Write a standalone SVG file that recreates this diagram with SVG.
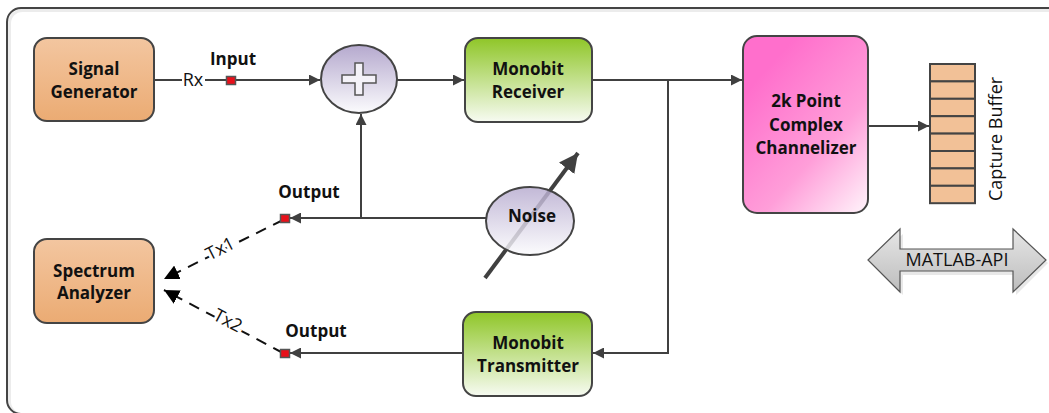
<svg xmlns="http://www.w3.org/2000/svg" width="1049" height="413" viewBox="0 0 1049 413">
<style>
.b{font-family:"Open Sans","Liberation Sans",sans-serif;font-weight:bold;font-size:17px;fill:#111;text-anchor:middle}
.r{font-family:"Open Sans","Liberation Sans",sans-serif;font-size:18px;fill:#111;text-anchor:middle}
.box{stroke:#444;stroke-width:2}
.c{fill:none;stroke:#404040;stroke-width:2}
.d{fill:none;stroke:#111;stroke-width:2;stroke-dasharray:11 8}
.port{fill:#e8101a;stroke:#555;stroke-width:1.5}
</style>
<defs>
<linearGradient id="gOr" x1="0" y1="0" x2="0" y2="1"><stop offset="0" stop-color="#f3c6a0"/><stop offset="1" stop-color="#ebab73"/></linearGradient>
<linearGradient id="gGr" x1="0" y1="0" x2="0" y2="1"><stop offset="0" stop-color="#8fc628"/><stop offset="1" stop-color="#f7fbf2"/></linearGradient>
<linearGradient id="gPu" x1="0" y1="0" x2="0" y2="1"><stop offset="0" stop-color="#b5a9ce"/><stop offset="1" stop-color="#fbfbfd"/></linearGradient>
<linearGradient id="gPk" x1="0.3" y1="0.1" x2="1" y2="1"><stop offset="0" stop-color="#ff6fcc"/><stop offset="0.55" stop-color="#ff9ed9"/><stop offset="1" stop-color="#fff5fb"/></linearGradient>
<linearGradient id="gGy" x1="0" y1="0" x2="0" y2="1"><stop offset="0" stop-color="#e6e6e6"/><stop offset="1" stop-color="#bdbdbd"/></linearGradient>
<marker id="a" viewBox="0 0 10 10" refX="10" refY="5" markerWidth="5.5" markerHeight="5.5" orient="auto"><path d="M0,0L10,5L0,10z" fill="#404040"/></marker>
<marker id="ab" viewBox="0 0 10 10" refX="10" refY="5" markerWidth="15" markerHeight="15" orient="auto" markerUnits="userSpaceOnUse"><path d="M0,0L10,5L0,10z" fill="#000"/></marker>
<marker id="ag" viewBox="0 0 10 10" refX="10" refY="5" markerWidth="19" markerHeight="19" orient="auto" markerUnits="userSpaceOnUse"><path d="M0,0L10,5L0,10z" fill="#404040"/></marker>
</defs>
<rect x="0" y="0" width="1049" height="413" fill="#fff"/>
<g id="frame">
<rect x="9.5" y="10.5" width="1080" height="404" rx="13" fill="none" stroke="#ececec" stroke-width="3"/>
<rect x="7" y="8" width="1080" height="406" rx="14" fill="none" stroke="#444" stroke-width="2"/>
</g>
<g id="connectors">
<path class="c" d="M154,80H182M205,80H226"/>
<path class="c" d="M236,80H320" marker-end="url(#a)"/>
<path class="c" d="M397,80H464" marker-end="url(#a)"/>
<path class="c" d="M592,80H742" marker-end="url(#a)"/>
<path class="c" d="M668,80V353H593" marker-end="url(#a)"/>
<path class="c" d="M868,126H929" marker-end="url(#a)"/>
<path class="c" d="M487,218H290" marker-end="url(#a)"/>
<path class="c" d="M361,218V114" marker-end="url(#a)"/>
<path class="c" d="M462,353H290" marker-end="url(#a)"/>
<path d="M485,278L578,153" fill="none" stroke="#404040" stroke-width="4" marker-end="url(#ag)"/>
<path class="d" d="M283,220L164,279" marker-end="url(#ab)"/>
<path class="d" d="M283,353L164,290" marker-end="url(#ab)"/>
<text class="r" transform="translate(223,254) rotate(-27)" stroke="#fff" stroke-width="6" paint-order="stroke">Tx1</text>
<text class="r" transform="translate(225,326) rotate(28)" stroke="#fff" stroke-width="6" paint-order="stroke">Tx2</text>
<text class="r" x="193" y="86">Rx</text>
</g>
<g id="input-port"><rect class="port" x="226.5" y="76.5" width="9" height="8"/><text class="b" x="233" y="65">Input</text></g>
<g id="output1-port"><rect class="port" x="280.5" y="214.5" width="9" height="8"/><text class="b" x="309" y="198">Output</text></g>
<g id="output2-port"><rect class="port" x="280.5" y="349.5" width="9" height="8"/><text class="b" x="316" y="337">Output</text></g>
<g id="signal-generator"><rect class="box" x="34" y="38" width="120" height="83" rx="13" fill="url(#gOr)"/><text class="b" x="94" y="75">Signal</text><text class="b" x="94" y="98">Generator</text></g>
<g id="spectrum-analyzer"><rect class="box" x="34" y="239" width="120" height="84" rx="13" fill="url(#gOr)"/><text class="b" x="94" y="277">Spectrum</text><text class="b" x="94" y="299">Analyzer</text></g>
<g id="adder"><ellipse class="box" cx="359" cy="79" rx="38" ry="34" fill="url(#gPu)"/><path d="M355,63h8v12h13v8h-13v12h-8v-12h-13v-8h13z" fill="#f4f2f8" stroke="#555" stroke-width="1.5"/></g>
<g id="monobit-receiver"><rect class="box" x="465" y="38" width="127" height="84" rx="13" fill="url(#gGr)"/><text class="b" x="528" y="75">Monobit</text><text class="b" x="528" y="98">Receiver</text></g>
<g id="monobit-transmitter"><rect class="box" x="463" y="312" width="129" height="84" rx="13" fill="url(#gGr)"/><text class="b" x="528" y="349">Monobit</text><text class="b" x="528" y="372">Transmitter</text></g>
<g id="channelizer"><rect class="box" x="743" y="36" width="125" height="177" rx="14" fill="url(#gPk)"/><text class="b" x="806" y="107">2k Point</text><text class="b" x="806" y="131">Complex</text><text class="b" x="806" y="154">Channelizer</text></g>
<g id="noise"><ellipse cx="530" cy="221" rx="44" ry="34" fill="url(#gPu)" fill-opacity="0.82" stroke="#444" stroke-width="2"/><text class="b" x="532" y="222">Noise</text></g>
<g id="capture-buffer">
<g fill="#f2c197" stroke="#444" stroke-width="2">
<rect x="930" y="64" width="45" height="17.4"/><rect x="930" y="81.4" width="45" height="17.4"/><rect x="930" y="98.8" width="45" height="17.4"/><rect x="930" y="116.2" width="45" height="17.4"/><rect x="930" y="133.6" width="45" height="17.4"/><rect x="930" y="151" width="45" height="17.4"/><rect x="930" y="168.4" width="45" height="17.4"/><rect x="930" y="185.8" width="45" height="17.4"/>
</g>
<text class="r" transform="translate(1002,139) rotate(-90)">Capture Buffer</text>
</g>
<g id="matlab-api">
<path d="M871,263L903,234V253H1016V234L1048,263L1016,295V275H903V295z" fill="#d8d8d8" opacity="0.6"/>
<path d="M868,260L900,229V249H1013V229L1046,260L1013,292V271H900V292z" fill="url(#gGy)" stroke="#555" stroke-width="1.2"/>
<text class="r" x="957" y="266">MATLAB-API</text>
</g>
</svg>
